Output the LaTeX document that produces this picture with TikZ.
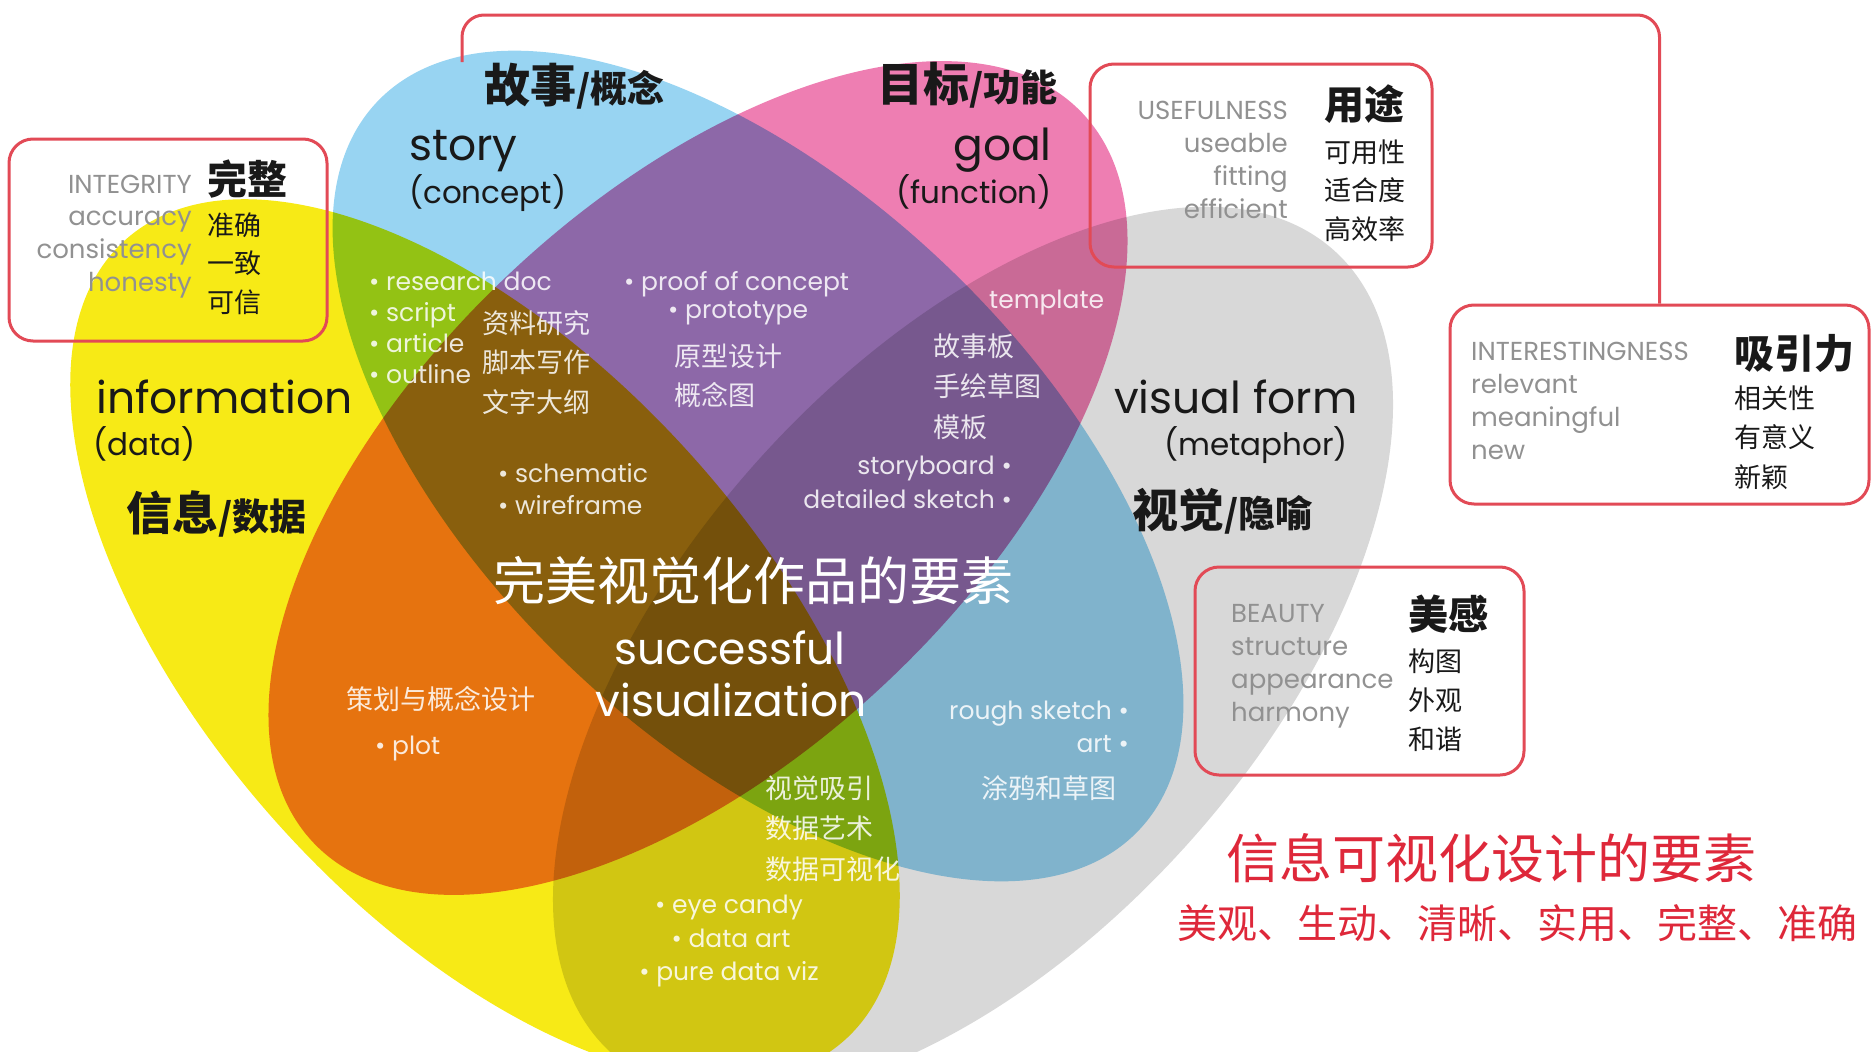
\documentclass[tikz,border=0pt]{standalone}
\usepackage{fontspec}
\setmainfont{Poppins}
\newfontfamily\cjk{Noto Sans CJK SC}
\usetikzlibrary{positioning}
\definecolor{infoyellow}{RGB}{247,234,22}
\definecolor{storyblue}{RGB}{152,212,242}
\definecolor{goalpink}{RGB}{238,126,178}
\definecolor{formgrey}{RGB}{216,216,216}
\definecolor{boxred}{RGB}{226,74,86}
\definecolor{notered}{RGB}{222,40,58}
\definecolor{labelgrey}{RGB}{145,145,145}
\newcommand{\setfs}[1]{\fontsize{#1}{#1}\selectfont}

\begin{document}
\begin{tikzpicture}[
  x=1pt, y=-1pt,
  titleen/.style={inner sep=0, text=black!90, font=\setfs{44}},
  suben/.style={inner sep=0, text=black!90, font=\setfs{31}},
  titlecn/.style={inner sep=0, text=black!90, font=\cjk\bfseries\setfs{46}},
  centeren/.style={inner sep=0, text=white, font=\setfs{44}},
  centercn/.style={inner sep=0, text=white, font=\cjk\setfs{52}},
  whiteen/.style={inner sep=0, text=white, text opacity=0.85, font=\setfs{25}},
  whitecn/.style={inner sep=0, text=white, text opacity=0.85, font=\cjk\setfs{27}},
  greyen/.style={inner sep=0, text=labelgrey, font=\setfs{26}},
  boxhead/.style={inner sep=0, text=black!90, font=\cjk\bfseries\setfs{40}},
  boxcn/.style={inner sep=0, text=black!90, font=\cjk\setfs{27}},
  notecn/.style={inner sep=0, text=notered, font=\cjk\setfs{#1}},
  redbox/.style={draw=boxred, line width=3pt, rounded corners=24, inner sep=0},
  bracket/.style={draw=boxred, line width=3pt, rounded corners=22},
]
\useasboundingbox (0,0) rectangle (1874,1052);
\clip (0,0) rectangle (1874,1052);

% the four sets
\begin{scope}[blend mode=multiply]
  \fill[infoyellow, rotate around={-48:(485,640)}] (485,640) ellipse (538 and 277);
  \fill[storyblue, rotate around={-43.8:(758,466)}] (758,466) ellipse (527 and 275);
  \fill[goalpink, rotate around={43.5:(698,478)}] (698,478) ellipse (530 and 278);
  \fill[formgrey, rotate around={48:(973,652)}] (973,652) ellipse (540 and 288);
\end{scope}

% set titles
\node[titlecn, anchor=west] (storycn) at (484,86) {故事{\setfs{37}/概念}};
\node[titleen, anchor=base west] (story) at (409,160) {story};
\node[suben, anchor=base west] (concept) at (409,203) {(concept)};

\node[titlecn, anchor=east] (goalcn) at (1058,85) {目标{\setfs{37}/功能}};
\node[titleen, anchor=base east] (goal) at (1052,160) {goal};
\node[suben, anchor=base east] (function) at (1052,203) {(function)};

\node[titleen, anchor=base west] (info) at (96,413) {information};
\node[suben, anchor=base west] (data) at (93,455) {(data)};
\node[titlecn, anchor=west] (infocn) at (126,514) {信息{\setfs{37}/数据}};

\node[titleen, anchor=base west] (form) at (1114,413) {visual form};
\node[suben, anchor=base east] (metaphor) at (1348,455) {(metaphor)};
\node[titlecn, anchor=west] (formcn) at (1132,511) {视觉{\setfs{37}/隐喻}};

% centre
\node[centercn] (corecn) at (753,581) {完美视觉化作品的要素};
\node[centeren, anchor=base] (successful) at (730,664) {successful};
\node[centeren, anchor=base] (visualization) at (731,716) {visualization};

% overlaps
\foreach \w [count=\i from 0] in {research doc, script, article, outline}
  \node[whiteen, anchor=base west] (doc\i) at (369,290+31*\i) {\textbullet\ \w};
\foreach \w [count=\i from 0] in {资料研究, 脚本写作, 文字大纲}
  \node[whitecn, anchor=west] (doccn\i) at (482,323+39.5*\i) {\w};

\node[whiteen, anchor=base west] (proof) at (624,290) {\textbullet\ proof of concept};
\node[whiteen, anchor=base west] (prototype) at (668,318) {\textbullet\ prototype};
\node[whitecn, anchor=west] (protocn) at (674,356) {原型设计};
\node[whitecn, anchor=west] (mapcn) at (674,395) {概念图};

\node[whiteen, anchor=base west] (template) at (989,308) {template};
\foreach \w [count=\i from 0] in {故事板, 手绘草图, 模板}
  \node[whitecn, anchor=west] (boardcn\i) at (933,346+40.5*\i) {\w};
\node[whiteen, anchor=base east] (storyboard) at (1012,474) {storyboard \textbullet};
\node[whiteen, anchor=base east] (detailed) at (1012,508) {detailed sketch \textbullet};

\node[whiteen, anchor=base west] (schematic) at (498,482) {\textbullet\ schematic};
\node[whiteen, anchor=base west] (wireframe) at (498,514) {\textbullet\ wireframe};

\node[whitecn, anchor=west] (plancn) at (346,699) {策划与概念设计};
\node[whiteen, anchor=base west] (plot) at (375,754) {\textbullet\ plot};

\foreach \w [count=\i from 0] in {视觉吸引, 数据艺术, 数据可视化}
  \node[whitecn, anchor=west] (artcn\i) at (765,788+40.5*\i) {\w};
\node[whiteen, anchor=base] (candy) at (729,913) {\textbullet\ eye candy};
\node[whiteen, anchor=base] (dataart) at (731,947) {\textbullet\ data art};
\node[whiteen, anchor=base] (pureviz) at (729,980) {\textbullet\ pure data viz};

\node[whiteen, anchor=base east] (rough) at (1129,719) {rough sketch \textbullet};
\node[whiteen, anchor=base east] (art) at (1129,752) {art \textbullet};
\node[whitecn, anchor=east] (sketchcn) at (1117,788) {涂鸦和草图};

% quality boxes
\node[redbox, minimum width=318, minimum height=202] (integrity) at (168,240) {};
\foreach \w [count=\i from 0] in {INTEGRITY, accuracy, consistency, honesty}
  \node[greyen, anchor=base east] (integ\i) at (192,193+32.7*\i) {\w};
\node[boxhead, anchor=west] (integcn) at (207,179) {完整};
\foreach \w [count=\i from 0] in {准确, 一致, 可信}
  \node[boxcn, anchor=west] (integcn\i) at (207,225+38.5*\i) {\w};

\node[redbox, minimum width=342, minimum height=203] (useful) at (1261,165.5) {};
\foreach \w [count=\i from 0] in {USEFULNESS, useable, fitting, efficient}
  \node[greyen, anchor=base east] (use\i) at (1288,119+33.3*\i) {\w};
\node[boxhead, anchor=west] (usecn) at (1324,104) {用途};
\foreach \w [count=\i from 0] in {可用性, 适合度, 高效率}
  \node[boxcn, anchor=west] (usecn\i) at (1324,152+38.5*\i) {\w};

\node[redbox, minimum width=419, minimum height=199] (interest) at (1659.5,404.5) {};
\foreach \w [count=\i from 0] in {INTERESTINGNESS, relevant, meaningful, new}
  \node[greyen, anchor=base west] (inter\i) at (1471,360+33*\i) {\w};
\node[boxhead, anchor=west] (intercn) at (1734,353) {吸引力};
\foreach \w [count=\i from 0] in {相关性, 有意义, 新颖}
  \node[boxcn, anchor=west] (intercn\i) at (1734,398+39.5*\i) {\w};

\node[redbox, minimum width=329, minimum height=208] (beauty) at (1359.5,671) {};
\foreach \w [count=\i from 0] in {BEAUTY, structure, appearance, harmony}
  \node[greyen, anchor=base west] (beau\i) at (1231,622+33.3*\i) {\w};
\node[boxhead, anchor=west] (beaucn) at (1408,614) {美感};
\foreach \w [count=\i from 0] in {构图, 外观, 和谐}
  \node[boxcn, anchor=west] (beaucn\i) at (1408,661+39*\i) {\w};

% bracket from story to interestingness
\coordinate (storytop) at (462,62);
\coordinate (topbar) at (interest.north |- 0,15);
\draw[bracket] (storytop) |- (topbar) -- (interest.north);

% summary
\node[notecn=53] (summary) at (1491,858) {信息可视化设计的要素};
\node[notecn=40] (traits) at (1517,923) {美观、生动、清晰、实用、完整、准确};
\end{tikzpicture}
\end{document}
